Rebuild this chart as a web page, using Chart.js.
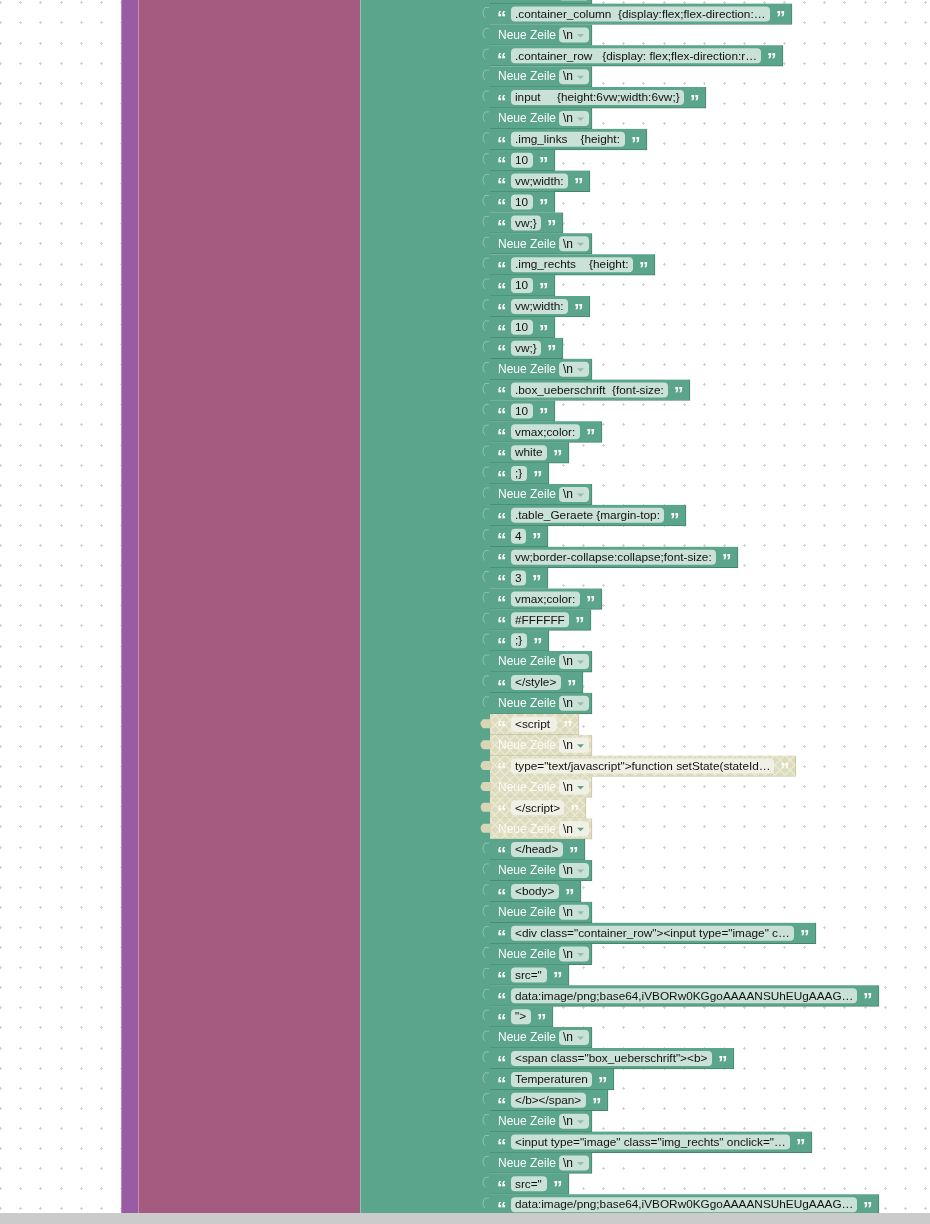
<!DOCTYPE html>
<html>
<head>
<meta charset="utf-8">
<script src="https://cdn.jsdelivr.net/npm/chart.js"></script>
<style>
  html, body { margin: 0; padding: 0; background: #fff; overflow: hidden; }
  canvas { display: block; }
</style>
</head>
<body>
<canvas id="chartBloques" width="930" height="1224"></canvas>
<script>
// Texto de cada bloque (fila 0 = bloque cortado arriba)
const NZ = "Neue Zeile";
const etiquetas = [
  NZ,
  ".container_column  {display:flex;flex-direction:…", NZ,
  ".container_row   {display: flex;flex-direction:r…", NZ,
  "input     {height:6vw;width:6vw;}", NZ,
  ".img_links    {height:", "10", "vw;width:", "10", "vw;}", NZ,
  ".img_rechts    {height:", "10", "vw;width:", "10", "vw;}", NZ,
  ".box_ueberschrift  {font-size:", "10", "vmax;color:", "white", ";}", NZ,
  ".table_Geraete {margin-top:", "4", "vw;border-collapse:collapse;font-size:", "3", "vmax;color:", "#FFFFFF", ";}", NZ,
  "</style>", NZ,
  "<scr" + "ipt", NZ,
  "type=\"text/javascript\">function setState(stateId…", NZ,
  "</scr" + "ipt>", NZ,
  "</head>", NZ,
  "<body>", NZ,
  "<div class=\"container_row\"><input type=\"image\" c…", NZ,
  "src=\"",
  "data:image/png;base64,iVBORw0KGgoAAAANSUhEUgAAAG…",
  "\">", NZ,
  "<span class=\"box_ueberschrift\"><b>",
  "Temperaturen",
  "</b></span>", NZ,
  "<input type=\"image\" class=\"img_rechts\" onclick=\"…", NZ,
  "src=\"",
  "data:image/png;base64,iVBORw0KGgoAAAANSUhEUgAAAG…"
];

// Borde derecho de cada bloque (px del lienzo)
const finBloque = [
  592,
  792, 592, 783, 592, 706, 592,
  647, 555, 590, 555, 563, 592,
  655, 555, 590, 555, 563, 592,
  690, 555, 602, 569, 549, 592,
  686, 548, 738, 548, 602, 591, 549, 592,
  583, 592,
  579, 592, 796, 592, 586, 592,
  585, 592, 581, 592,
  816, 592, 569, 879, 553, 592,
  734, 614, 608, 592,
  812, 592, 569, 879
];

// Bloques desactivados (el bloque del script)
const desactivados = [35, 36, 37, 38, 39, 40];

// Columnas de los bloques padre: [inicio, fin, color]
const columnas = [
  [121, 138, "#9a5ba5"],
  [138, 360, "#a55b80"],
  [360, 490, "#5ba58c"]
];

const INICIO = 490;
const FILA = 20.89;
const FUENTE = '"Liberation Sans", Arial, sans-serif';

// patrón rayado para los bloques desactivados
function patronDesactivado() {
  const c = document.createElement("canvas");
  c.width = 10;
  c.height = 10;
  const g = c.getContext("2d");
  g.fillStyle = "#dcdabf";
  g.fillRect(0, 0, 10, 10);
  g.strokeStyle = "#eceacf";
  g.lineWidth = 1.4;
  g.beginPath();
  g.moveTo(0, 0); g.lineTo(10, 10);
  g.moveTo(10, 0); g.lineTo(0, 10);
  g.stroke();
  return g.createPattern(c, "repeat");
}
const rayado = patronDesactivado();

const fondo = {
  id: "fondo",
  beforeDatasetsDraw(chart) {
    const ctx = chart.ctx;
    const sx = chart.scales.x;
    ctx.save();
    ctx.fillStyle = "#fff";
    ctx.fillRect(0, 0, chart.width, chart.height);

    // puntos de la rejilla
    ctx.strokeStyle = "#d2d2d2";
    ctx.lineWidth = 1;
    for (let gx = 0.2; gx < chart.width; gx += 20.1) {
      for (let gy = 2.3; gy < chart.height; gy += 20.1) {
        const px = Math.round(sx.getPixelForValue(gx)) + 0.5;
        const py = Math.round(gy) + 0.5;
        ctx.beginPath();
        ctx.moveTo(px - 1.5, py); ctx.lineTo(px + 1.5, py);
        ctx.moveTo(px, py - 1.5); ctx.lineTo(px, py + 1.5);
        ctx.stroke();
      }
    }

    // columnas
    const abajo = 1213;
    columnas.forEach(([a, b, col]) => {
      const xa = sx.getPixelForValue(a), xb = sx.getPixelForValue(b);
      ctx.fillStyle = col;
      ctx.fillRect(xa, 0, xb - xa, abajo);
    });
    ctx.fillStyle = "#c48fb0";
    ctx.fillRect(sx.getPixelForValue(138), 0, 1, abajo);
    ctx.fillStyle = "#8fc7b3";
    ctx.fillRect(sx.getPixelForValue(360), 0, 1, abajo);
    ctx.fillStyle = "#b58cbf";
    ctx.fillRect(sx.getPixelForValue(121), 0, 1, abajo);
    ctx.restore();
  }
};

function campo(ctx, x, y, w, h, col) {
  const r = 4;
  ctx.fillStyle = col;
  ctx.beginPath();
  ctx.moveTo(x + r, y);
  ctx.arcTo(x + w, y, x + w, y + h, r);
  ctx.arcTo(x + w, y + h, x, y + h, r);
  ctx.arcTo(x, y + h, x, y, r);
  ctx.arcTo(x, y, x + w, y, r);
  ctx.closePath();
  ctx.fill();
}

const contenido = {
  id: "contenido",
  afterDatasetsDraw(chart) {
    const ctx = chart.ctx;
    const meta = chart.getDatasetMeta(0);
    ctx.save();
    meta.data.forEach((bar, i) => {
      const x0 = bar.base, x1 = bar.x, y = bar.y;
      const off = desactivados.includes(i);
      const blanco = off ? "rgba(255,255,255,0.9)" : "#ffffff";

      // pestaña izquierda
      if (off) {
        ctx.fillStyle = "#d9d6b6";
        ctx.beginPath();
        ctx.moveTo(x0 + 1, y - 5);
        ctx.lineTo(x0 - 7, y - 5);
        ctx.quadraticCurveTo(x0 - 12, y - 0.5, x0 - 7, y + 4);
        ctx.lineTo(x0 + 1, y + 4);
        ctx.closePath();
        ctx.fill();
      } else {
        ctx.strokeStyle = "rgba(255,255,255,0.3)";
        ctx.lineWidth = 1;
        ctx.beginPath();
        ctx.moveTo(x0 - 1, y - 6.5);
        ctx.lineTo(x0 - 5, y - 6.5);
        ctx.quadraticCurveTo(x0 - 9, y - 1, x0 - 5, y + 3.5);
        ctx.stroke();
      }

      ctx.textBaseline = "middle";
      if (etiquetas[i] === NZ) {
        ctx.font = "12px " + FUENTE;
        ctx.fillStyle = blanco;
        ctx.fillText(NZ, x0 + 8, y + 0.5);
        campo(ctx, x0 + 69, y - 7.5, 30, 15, off ? "#f1f0e6" : "#c9e1d7");
        ctx.fillStyle = "#111";
        ctx.fillText("\\n", x0 + 73, y + 0.5);
        ctx.fillStyle = off ? "#5ba58c" : "#8fc1ad";
        ctx.beginPath();
        ctx.moveTo(x0 + 87, y - 1);
        ctx.lineTo(x0 + 94, y - 1);
        ctx.lineTo(x0 + 90.5, y + 2.5);
        ctx.closePath();
        ctx.fill();
      } else {
        ctx.font = "bold 19px " + FUENTE;
        ctx.fillStyle = blanco;
        ctx.fillText("\u201C", x0 + 7, y + 5);
        ctx.fillText("\u201D", x1 - 16, y + 5);
        campo(ctx, x0 + 21, y - 7.5, x1 - 22 - (x0 + 21), 15, off ? "#f1f0e6" : "#c9e1d7");
        ctx.font = "11.8px " + FUENTE;
        ctx.fillStyle = "#111";
        ctx.fillText(etiquetas[i], x0 + 25, y + 0.5);
      }
    });

    // barra de desplazamiento
    ctx.fillStyle = "#cbcbcb";
    ctx.fillRect(0, 1213, chart.width, chart.height - 1213);
    ctx.restore();
  }
};

new Chart(document.getElementById("chartBloques"), {
  type: "bar",
  data: {
    datasets: [{
      data: finBloque.map((fin, i) => ({ x: fin, y: i })),
      base: INICIO,
      backgroundColor: finBloque.map((_, i) => desactivados.includes(i) ? rayado : "#5ba58c"),
      borderColor: finBloque.map((_, i) => desactivados.includes(i) ? "#c9c6a6" : "#45836d"),
      borderWidth: { top: 0, left: 0, right: 1, bottom: 1 },
      borderSkipped: false,
      barThickness: 21
    }]
  },
  plugins: [fondo, contenido],
  options: {
    indexAxis: "y",
    responsive: false,
    animation: false,
    devicePixelRatio: 1,
    layout: { padding: 0 },
    plugins: { legend: { display: false }, tooltip: { enabled: false } },
    scales: {
      x: { type: "linear", min: 0, max: 930, offset: false, display: false },
      y: {
        type: "linear", reverse: true, offset: false, grace: 0,
        min: 1 - 14 / FILA, max: 1 - 14 / FILA + 1224 / FILA, display: false
      }
    }
  }
});
</script>
</body>
</html>
